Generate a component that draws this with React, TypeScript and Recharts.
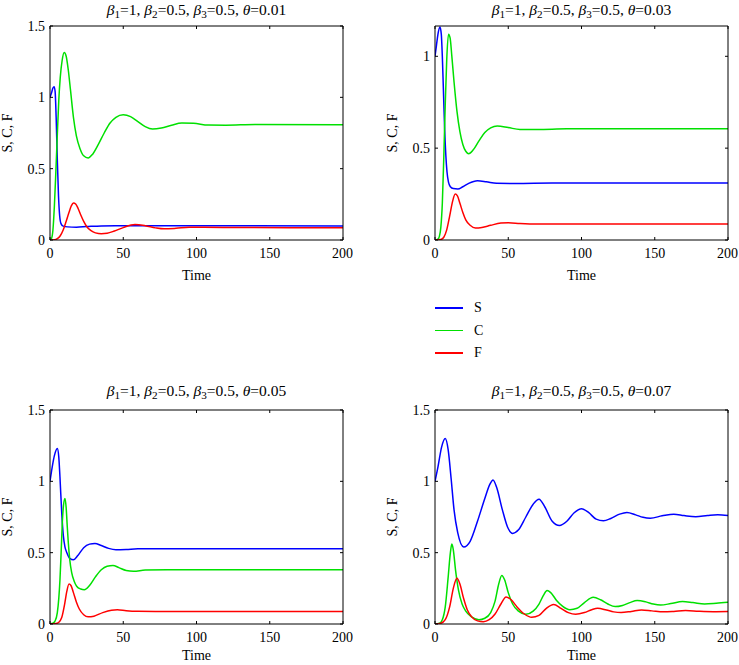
import React from "react";
import { LineChart, Line, XAxis, YAxis } from "recharts";

type Pt = [number, number];

const SERIES_NAMES = ["S", "C", "F"];
const SERIES_COLORS = ["#0000ff", "#00e000", "#ff0000"];
const TIME_TICKS = [0, 50, 100, 150, 200];
const THETAS = ["0.01", "0.03", "0.05", "0.07"];

// theta = 0.01
const s1: Pt[] = [[0, 1], [1, 1.03], [2, 1.065], [2.8, 1.075], [3.5, 1.04], [4.2, 0.86], [5, 0.56], [5.8, 0.31], [6.6, 0.17], [7.5, 0.115], [9, 0.097], [12, 0.092], [18, 0.09], [25, 0.094], [35, 0.099], [60, 0.1], [200, 0.099]];
const c1: Pt[] = [[0, 0], [1, 0.01], [2, 0.07], [3, 0.24], [4, 0.48], [5, 0.74], [6, 0.98], [7, 1.14], [8.3, 1.26], [9.7, 1.315], [11, 1.29], [12.5, 1.19], [14, 1.05], [16, 0.86], [18, 0.73], [20.5, 0.64], [23, 0.59], [26, 0.575], [29, 0.6], [33, 0.67], [37, 0.75], [41, 0.82], [45, 0.86], [50, 0.878], [55, 0.865], [60, 0.83], [65, 0.795], [70, 0.778], [76, 0.785], [83, 0.805], [90, 0.82], [98, 0.818], [108, 0.806], [120, 0.805], [140, 0.81], [200, 0.808]];
const f1: Pt[] = [[0, 0], [3, 0.002], [5, 0.01], [7, 0.03], [9, 0.07], [11, 0.13], [13, 0.195], [14.5, 0.238], [16, 0.26], [17.5, 0.252], [19, 0.225], [21, 0.175], [23, 0.13], [25, 0.095], [28, 0.065], [31, 0.05], [35, 0.044], [39, 0.047], [44, 0.063], [50, 0.087], [58, 0.108], [65, 0.1], [72, 0.085], [78, 0.078], [86, 0.082], [95, 0.09], [105, 0.09], [130, 0.087], [200, 0.086]];

// theta = 0.03
const s2: Pt[] = [[0, 1], [1, 1.06], [2, 1.12], [3.4, 1.16], [4.3, 1.12], [5, 1.0], [5.8, 0.8], [6.6, 0.6], [7.4, 0.46], [8.2, 0.37], [9.2, 0.315], [10.5, 0.29], [12.5, 0.28], [15.6, 0.278], [19, 0.29], [23, 0.308], [29, 0.322], [35, 0.317], [42, 0.309], [55, 0.308], [80, 0.31], [200, 0.31]];
const c2: Pt[] = [[0, 0], [2, 0.005], [3, 0.02], [4, 0.07], [5, 0.2], [6, 0.45], [7, 0.74], [8, 0.98], [9.2, 1.12], [10.3, 1.1], [11.5, 1.0], [13, 0.86], [15, 0.7], [17, 0.59], [19, 0.52], [21, 0.483], [23, 0.47], [26, 0.49], [30, 0.54], [34, 0.585], [38, 0.61], [42.5, 0.62], [50, 0.612], [58, 0.602], [70, 0.602], [90, 0.605], [200, 0.605]];
const f2: Pt[] = [[0, 0], [4, 0.003], [6, 0.015], [8, 0.055], [10, 0.13], [12, 0.21], [13.8, 0.25], [15.3, 0.24], [17, 0.2], [19, 0.15], [21, 0.11], [24, 0.08], [27.6, 0.065], [32, 0.068], [38, 0.08], [45, 0.092], [50, 0.094], [58, 0.09], [70, 0.087], [200, 0.087]];

// theta = 0.05
const s3: Pt[] = [[0, 1], [1.5, 1.1], [3, 1.18], [5, 1.23], [6, 1.17], [6.8, 1.03], [8, 0.78], [9.1, 0.62], [10.2, 0.54], [11.5, 0.5], [13.5, 0.46], [16, 0.45], [19, 0.48], [23, 0.535], [27, 0.56], [30.7, 0.565], [35, 0.55], [40, 0.53], [45, 0.52], [52, 0.522], [60, 0.527], [200, 0.527]];
const c3: Pt[] = [[0, 0], [2, 0.005], [3.4, 0.02], [5, 0.08], [6, 0.18], [6.8, 0.31], [7.6, 0.5], [8.4, 0.71], [9.2, 0.83], [10.2, 0.88], [11, 0.82], [11.8, 0.68], [12.5, 0.57], [13.5, 0.45], [14.8, 0.36], [16.5, 0.3], [18.2, 0.265], [21, 0.245], [23.4, 0.24], [27, 0.27], [31, 0.33], [35, 0.38], [39, 0.405], [43, 0.41], [47, 0.395], [52, 0.375], [57, 0.37], [65, 0.378], [80, 0.38], [200, 0.38]];
const f3: Pt[] = [[0, 0], [4, 0.003], [6, 0.012], [8, 0.045], [10, 0.14], [11.5, 0.23], [13, 0.28], [14.3, 0.27], [16, 0.22], [18, 0.155], [20, 0.105], [23, 0.065], [26, 0.05], [30, 0.055], [36, 0.08], [42, 0.097], [46, 0.1], [52, 0.093], [60, 0.089], [80, 0.088], [200, 0.088]];

// theta = 0.07
const s4: Pt[] = [[0, 1], [2, 1.1], [4.5, 1.24], [7, 1.3], [9, 1.22], [11, 1.02], [13, 0.8], [15.5, 0.64], [19.6, 0.54], [24, 0.58], [29, 0.72], [34, 0.88], [37.5, 0.98], [39.6, 1.01], [42, 0.96], [46, 0.8], [49.5, 0.68], [53, 0.635], [57, 0.66], [62, 0.75], [67, 0.84], [71, 0.875], [75, 0.82], [80, 0.72], [85, 0.69], [90, 0.72], [95, 0.78], [100, 0.808], [105, 0.78], [110, 0.735], [115, 0.724], [120, 0.74], [126, 0.77], [131, 0.782], [137, 0.765], [142, 0.748], [147, 0.742], [155, 0.758], [163, 0.77], [170, 0.76], [178, 0.752], [186, 0.76], [193, 0.765], [200, 0.76]];
const c4: Pt[] = [[0, 0], [3, 0.005], [5, 0.03], [7, 0.12], [9, 0.33], [10.5, 0.5], [11.5, 0.56], [12.5, 0.52], [14, 0.38], [16, 0.24], [18.5, 0.14], [21, 0.09], [25, 0.05], [30, 0.03], [34, 0.04], [38, 0.08], [41, 0.16], [43.5, 0.28], [45.6, 0.34], [47.5, 0.31], [50, 0.22], [53, 0.14], [57, 0.09], [62, 0.068], [67, 0.09], [71, 0.14], [74, 0.2], [76.5, 0.234], [79, 0.22], [83, 0.165], [87, 0.125], [92, 0.1], [97, 0.11], [102, 0.15], [108, 0.187], [113, 0.17], [118, 0.14], [123, 0.122], [128, 0.13], [133, 0.15], [138, 0.165], [144, 0.155], [149, 0.14], [154, 0.133], [161, 0.143], [169, 0.157], [176, 0.15], [184, 0.14], [192, 0.145], [200, 0.152]];
const f4: Pt[] = [[0, 0], [4, 0.005], [7, 0.03], [10, 0.12], [12.5, 0.25], [15, 0.32], [17, 0.28], [19.5, 0.18], [22, 0.1], [25, 0.05], [29, 0.022], [33, 0.016], [37, 0.03], [41, 0.07], [45, 0.14], [48.5, 0.19], [52, 0.17], [56, 0.12], [61, 0.07], [66, 0.047], [71, 0.06], [76, 0.11], [81, 0.137], [86, 0.11], [91, 0.08], [96, 0.068], [102, 0.08], [107, 0.1], [111, 0.11], [117, 0.098], [122, 0.085], [127, 0.08], [134, 0.088], [141, 0.098], [148, 0.092], [156, 0.085], [163, 0.088], [171, 0.094], [180, 0.089], [190, 0.086], [200, 0.087]];

const FONT = "'Liberation Serif', 'Times New Roman', serif";
const tickStyle = { fontFamily: FONT, fontSize: 14, fill: "#000" };
const blank = () => "";

interface PanelProps {
  left: number; // plot box left edge
  top: number; // plot box top edge
  yMax: number;
  yTicks: number[];
  theta: string;
  titleY: number;
  timeY: number;
  lines: Pt[][];
}

function Title({ theta }: { theta: string }) {
  const sub = { fontSize: "0.72em", verticalAlign: "-0.3em", lineHeight: 0 };
  return (
    <span>
      <i>β</i><sub style={sub}>1</sub>=1, <i>β</i><sub style={sub}>2</sub>=0.5,{" "}
      <i>β</i><sub style={sub}>3</sub>=0.5, <i>θ</i>={theta}
    </span>
  );
}

function Panel({ left, top, yMax, yTicks, theta, titleY, timeY, lines }: PanelProps) {
  const plotW = 293;
  const plotH = 214;
  const cx = left + plotW / 2;
  return (
    <>
      <div style={{ position: "absolute", left: left - 50, top: top - 26 }}>
        <LineChart
          width={50 + plotW + 10}
          height={26 + plotH + 50}
          margin={{ top: 20, right: 4, bottom: 4, left: 10 }}
        >
          <XAxis
            xAxisId="b"
            dataKey="t"
            type="number"
            domain={[0, 200]}
            ticks={TIME_TICKS}
            allowDataOverflow
            height={46}
            tickSize={-3}
            tickMargin={11}
            tick={tickStyle}
            stroke="#000"
          />
          <XAxis
            xAxisId="t"
            orientation="top"
            dataKey="t"
            type="number"
            domain={[0, 200]}
            ticks={TIME_TICKS}
            allowDataOverflow
            height={6}
            tickSize={-3}
            tickFormatter={blank}
            stroke="#000"
          />
          <YAxis
            yAxisId="l"
            type="number"
            domain={[0, yMax]}
            ticks={yTicks}
            allowDataOverflow
            width={40}
            tickSize={-3}
            tickMargin={8}
            tick={tickStyle}
            stroke="#000"
          />
          <YAxis
            yAxisId="r"
            orientation="right"
            type="number"
            domain={[0, yMax]}
            ticks={yTicks}
            allowDataOverflow
            width={6}
            tickSize={-3}
            tickFormatter={blank}
            stroke="#000"
          />
          {lines.map((pts, i) => (
            <Line
              key={SERIES_NAMES[i]}
              xAxisId="b"
              yAxisId="l"
              name={SERIES_NAMES[i]}
              data={pts.map(([t, v]) => ({ t, v }))}
              dataKey="v"
              type="monotone"
              stroke={SERIES_COLORS[i]}
              strokeWidth={1.5}
              dot={false}
              isAnimationActive={false}
            />
          ))}
        </LineChart>
      </div>
      <div
        style={{
          position: "absolute",
          left: cx - 150,
          width: 300,
          top: titleY - 8,
          height: 16,
          lineHeight: "16px",
          textAlign: "center",
          fontSize: 15.5,
          whiteSpace: "nowrap",
        }}
      >
        <Title theta={theta} />
      </div>
      <div
        style={{
          position: "absolute",
          left: left - 42 - 50,
          width: 100,
          top: top + plotH / 2 - 8,
          height: 16,
          lineHeight: "16px",
          textAlign: "center",
          fontSize: 14,
          transform: "rotate(-90deg)",
        }}
      >
        S, C, F
      </div>
      <div
        style={{
          position: "absolute",
          left: cx - 50,
          width: 100,
          top: timeY - 8,
          height: 16,
          lineHeight: "16px",
          textAlign: "center",
          fontSize: 14,
        }}
      >
        Time
      </div>
    </>
  );
}

export default function App() {
  return (
    <div
      style={{
        position: "absolute",
        left: 0,
        top: 0,
        width: 739,
        height: 665,
        overflow: "hidden",
        background: "#fff",
        fontFamily: FONT,
        color: "#000",
      }}
    >
      <Panel left={50} top={26} yMax={1.5} yTicks={[0, 0.5, 1, 1.5]} theta={THETAS[0]} titleY={10} timeY={276} lines={[s1, c1, f1]} />
      <Panel left={435} top={26} yMax={1.165} yTicks={[0, 0.5, 1]} theta={THETAS[1]} titleY={10} timeY={276} lines={[s2, c2, f2]} />
      <Panel left={50} top={410} yMax={1.5} yTicks={[0, 0.5, 1, 1.5]} theta={THETAS[2]} titleY={391} timeY={656} lines={[s3, c3, f3]} />
      <Panel left={435} top={410} yMax={1.5} yTicks={[0, 0.5, 1, 1.5]} theta={THETAS[3]} titleY={391} timeY={656} lines={[s4, c4, f4]} />

      {/* shared legend */}
      {SERIES_NAMES.map((name, i) => (
        <div key={name} style={{ position: "absolute", left: 435, top: 308 + i * 22.5 - 8, height: 16, display: "flex", alignItems: "center" }}>
          <div style={{ width: 28, height: 1.5, background: SERIES_COLORS[i] }} />
          <span style={{ marginLeft: 11, fontSize: 14, lineHeight: "16px" }}>{name}</span>
        </div>
      ))}
    </div>
  );
}
